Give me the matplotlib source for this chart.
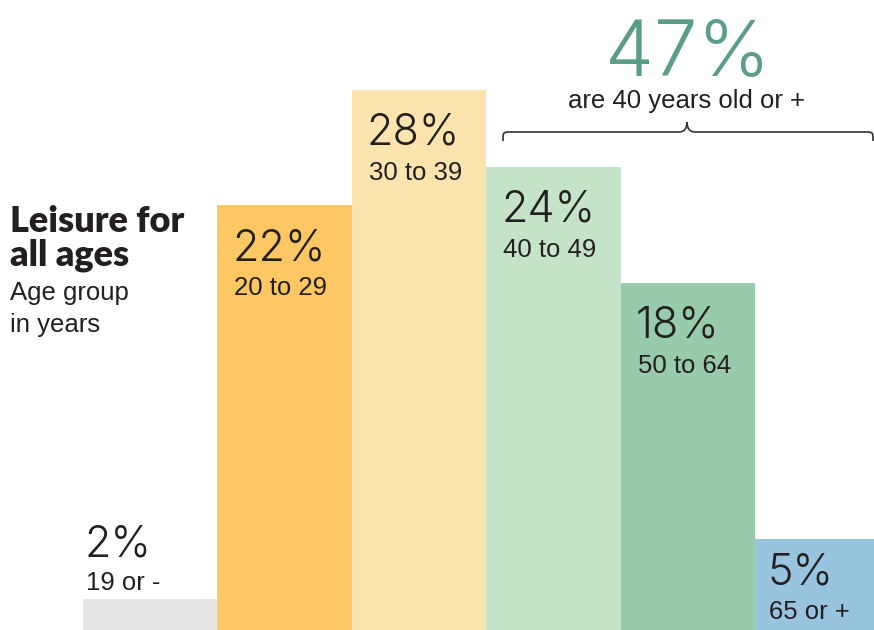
# Age distribution of leisure visitors, drawn as touching bars with labels inside.

import matplotlib.pyplot as plt
from matplotlib.path import Path
from matplotlib.patches import PathPatch

age_groups = ["19 or -", "20 to 29", "30 to 39", "40 to 49", "50 to 64", "65 or +"]
shares = [1.6, 22, 28, 24, 18, 4.7]
bar_colors = ["#e5e6e8", "#fdc764", "#fbe4ae", "#c5e3c8", "#98cbab", "#98c4e0"]
older_share = "47%"
older_text = "are 40 years old or +"

W, H = 874, 630
fig = plt.figure(figsize=(W / 100, H / 100), dpi=100)
ax = fig.add_axes([0, 0, 1, 1])
ax.axis('off')

# bar i covers [i-0.5, i+0.5]; left edge of first bar sits at 83 px
px_per_bar = 134.4
px_per_pct = 19.3
x0 = -0.5 - 83 / px_per_bar
ax.set_xlim(x0, x0 + W / px_per_bar)
ax.set_ylim(0, H / px_per_pct)

xs = range(len(shares))
ax.bar(xs, shares, width=1.0, color=bar_colors, linewidth=0)

dark = "#231f20"
pct_font = dict(family=["Inter", "DejaVu Sans"], fontweight=300, fontsize=31, color=dark)
sub_font = dict(family=["Liberation Sans", "DejaVu Sans"], fontsize=18.5, color=dark)

for i, (grp, val) in enumerate(zip(age_groups, shares)):
    left = i - 0.5
    if i == 0:
        # label sits above the short bar
        dx, pct_dy, sub_dy = 1, 43, 9
    elif i == len(shares) - 1:
        dx, pct_dy, sub_dy = 12, -45, -80
    else:
        dx, pct_dy, sub_dy = 15, -55, -90
    ax.annotate("%d%%" % round(val), (left, val), xytext=(dx, pct_dy),
                textcoords="offset pixels", ha="left", va="baseline", **pct_font)
    ax.annotate(grp, (left, val), xytext=(dx + 2, sub_dy),
                textcoords="offset pixels", ha="left", va="baseline", **sub_font)

# curly bracket over the 40+ groups
def px2data(px, py):
    return x0 + px / px_per_bar, (H - py) / px_per_pct

xl, yl = px2data(503, 141)
xr, yr = px2data(873, 141)
xc, yc = px2data(687, 132)
_, ytip = px2data(0, 122)
r = 8 / px_per_bar
verts = [(xl, yl), (xl, yc), (xl, yc), (xl + r, yc),
         (xc - r, yc), (xc, yc), (xc, ytip),
         (xc, yc), (xc + r, yc),
         (xr - r, yc), (xr, yc), (xr, yc), (xr, yl)]
codes = [Path.MOVETO, Path.CURVE4, Path.CURVE4, Path.CURVE4,
         Path.LINETO, Path.CURVE3, Path.CURVE3,
         Path.CURVE3, Path.CURVE3,
         Path.LINETO, Path.CURVE4, Path.CURVE4, Path.CURVE4]
ax.add_patch(PathPatch(Path(verts, codes), fill=False, edgecolor="#333333", lw=1.2,
                       clip_on=False))

def fpos(px, py):
    return px / W, 1 - py / H

fig.text(*fpos(688, 76), older_share, ha="center", va="baseline",
         family=["Inter", "DejaVu Sans"], fontweight=300, fontsize=56, color="#5a9e85")
fig.text(*fpos(686, 108), older_text, ha="center", va="baseline", **sub_font)

title_font = dict(family=["Lato", "DejaVu Sans"], fontweight=800, fontsize=26, color=dark)
fig.text(*fpos(10, 232), "Leisure for", ha="left", va="baseline", **title_font)
fig.text(*fpos(10, 265), "all ages", ha="left", va="baseline", **title_font)
fig.text(*fpos(10, 300), "Age group", ha="left", va="baseline", **sub_font)
fig.text(*fpos(10, 332), "in years", ha="left", va="baseline", **sub_font)

fig.savefig("out.png", dpi=100)
